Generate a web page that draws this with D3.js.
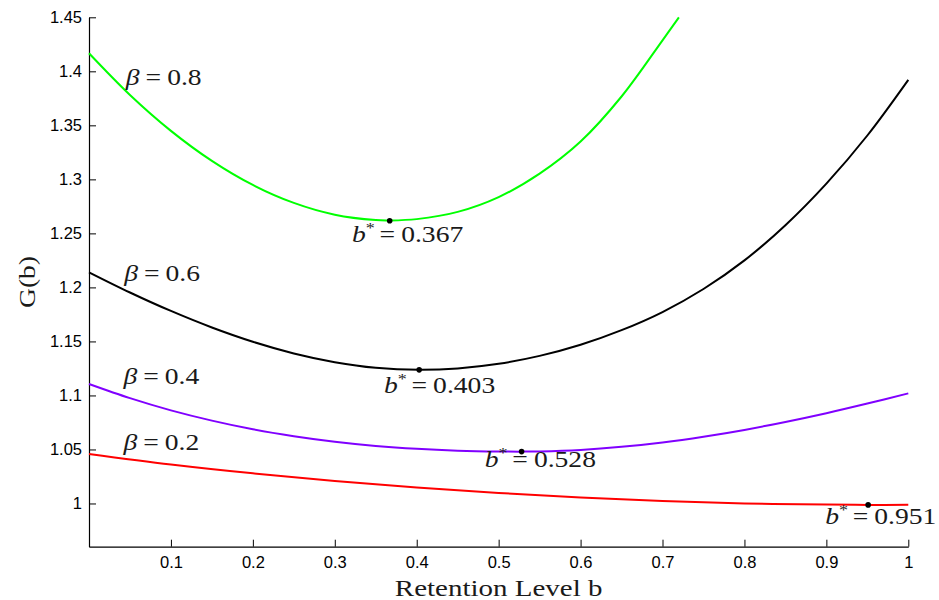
<!DOCTYPE html>
<html>
<head>
<meta charset="utf-8">
<script src="https://cdn.jsdelivr.net/npm/d3@7"></script>
<style>
  html, body { margin: 0; padding: 0; background: #fff; }
  svg { display: block; }
</style>
</head>
<body>
<svg id="chart" width="939" height="600"></svg>
<script>
// ---------------- data ----------------
const xTicks = [0.1, 0.2, 0.3, 0.4, 0.5, 0.6, 0.7, 0.8, 0.9, 1];
const yTicks = [1, 1.05, 1.1, 1.15, 1.2, 1.25, 1.3, 1.35, 1.4, 1.45];

const b08 = [0, 0.05, 0.1, 0.15, 0.2, 0.25, 0.3, 0.35, 0.367, 0.4, 0.45, 0.5, 0.55, 0.6, 0.65, 0.7, 0.72];
const g08 = [1.4167, 1.3781, 1.3449, 1.3171, 1.2948, 1.2782, 1.2673, 1.2623, 1.2620, 1.2632, 1.2699, 1.2836, 1.3053, 1.3350, 1.3767, 1.4287, 1.45];

const b06 = [0, 0.05, 0.1, 0.15, 0.2, 0.25, 0.3, 0.35, 0.403, 0.45, 0.5, 0.55, 0.6, 0.65, 0.7, 0.75, 0.8, 0.85, 0.9, 0.95, 1];
const g06 = [1.2140, 1.1953, 1.1782, 1.1629, 1.1497, 1.1389, 1.1308, 1.1256, 1.1237, 1.1250, 1.1293, 1.1366, 1.1469, 1.1604, 1.1772, 1.1985, 1.2250, 1.2576, 1.2961, 1.3406, 1.3921];

const b04 = [0, 0.05, 0.1, 0.15, 0.2, 0.25, 0.3, 0.35, 0.4, 0.45, 0.5, 0.528, 0.55, 0.6, 0.65, 0.7, 0.75, 0.8, 0.85, 0.9, 0.95, 1];
const g04 = [1.1106, 1.0975, 1.0862, 1.0767, 1.0687, 1.0623, 1.0572, 1.0533, 1.0506, 1.0489, 1.0481, 1.0480, 1.0482, 1.0496, 1.0524, 1.0565, 1.0618, 1.0681, 1.0755, 1.0836, 1.0925, 1.1019];

const b02 = [0, 0.1, 0.2, 0.3, 0.4, 0.5, 0.6, 0.7, 0.8, 0.9, 0.951, 1];
const g02 = [1.0459, 1.0361, 1.0279, 1.0209, 1.0149, 1.0098, 1.0056, 1.0023, 1.0000, 0.9990, 0.9987, 0.9988];

const seriesColors = ["#00ff00", "#000000", "#8000ff", "#ff0000"];

// optimum points
const optB = [0.367, 0.403, 0.528, 0.951];
const optG = [1.2617, 1.1237, 1.0480, 0.9987];

// text positions (data units, like text(x,y) in the source figure)
const betaLabelX = [0.045, 0.043, 0.042, 0.042];
const betaLabelY = [1.3873, 1.2056, 1.1108, 1.0491];
const betaValues = ["0.8", "0.6", "0.4", "0.2"];
const optLabelX = [0.321, 0.360, 0.483, 0.8985];
const optLabelY = [1.2417, 1.1019, 1.0339, 0.9809];
const optValues = ["0.367", "0.403", "0.528", "0.951"];

// ---------------- chart ----------------
const svg = d3.select("#chart");
const x = d3.scaleLinear().domain([0, 1]).range([89, 908.3]);
const y = d3.scaleLinear().domain([0.96, 1.45]).range([546.7, 17.3]);

const tickFont = "'Liberation Sans', Arial, sans-serif";
const mathFont = "'Liberation Serif', 'Times New Roman', serif";
const stretch = 1.2;

const xAxis = svg.append("g")
  .attr("transform", `translate(0,${y(0.96)})`)
  .call(d3.axisBottom(x).tickValues(xTicks).tickFormat(d3.format("~g"))
        .tickSizeInner(-7).tickSizeOuter(0).tickPadding(10));
const yAxis = svg.append("g")
  .attr("transform", `translate(${x(0)},0)`)
  .call(d3.axisLeft(y).tickValues(yTicks).tickFormat(d3.format("~g"))
        .tickSizeInner(-7).tickSizeOuter(0).tickPadding(7));
[xAxis, yAxis].forEach(g => {
  g.selectAll("text").attr("font-family", tickFont).attr("font-size", 16.5).attr("fill", "#000");
  g.selectAll("line").attr("stroke", "#000");
  g.select(".domain").attr("stroke", "#000").attr("stroke-width", 1.2);
});

const bs = [b08, b06, b04, b02];
const gs = [g08, g06, g04, g02];
const line = d3.line().x(d => x(d[0])).y(d => y(d[1])).curve(d3.curveCatmullRom.alpha(0.5));

bs.forEach((bArr, i) => {
  const pts = bArr.map((b, j) => [b, gs[i][j]]);
  svg.append("path")
    .datum(pts)
    .attr("d", line)
    .attr("fill", "none")
    .attr("stroke", seriesColors[i])
    .attr("stroke-width", 2);
});

// optimum dots
svg.selectAll("circle.opt")
  .data(optB.map((b, i) => [b, optG[i]]))
  .join("circle")
  .attr("class", "opt")
  .attr("cx", d => x(d[0]))
  .attr("cy", d => y(d[1]))
  .attr("r", 2.8)
  .attr("fill", "#000");

function mathText(px, py) {
  return svg.append("text")
    .attr("transform", `translate(${px},${py}) scale(${stretch},1)`)
    .attr("font-family", mathFont)
    .attr("font-size", 23)
    .attr("fill", "#1a1a1a");
}

// beta labels
betaValues.forEach((v, i) => {
  const t = mathText(x(betaLabelX[i]), y(betaLabelY[i]));
  t.append("tspan").attr("font-style", "italic").text("β");
  t.append("tspan").attr("dx", 5).text("=");
  t.append("tspan").attr("dx", 5).text(v);
});

// optimum labels
optValues.forEach((v, i) => {
  const t = mathText(x(optLabelX[i]), y(optLabelY[i]));
  t.append("tspan").attr("font-style", "italic").text("b");
  t.append("tspan").attr("font-size", 15).attr("dy", -9).text("*");
  t.append("tspan").attr("dy", 9).attr("dx", 4).text("=");
  t.append("tspan").attr("dx", 5).text(v);
});

// axis titles
svg.append("text")
  .attr("transform", `translate(35,${(y(0.96) + y(1.45)) / 2}) rotate(-90) scale(${stretch},1)`)
  .attr("text-anchor", "middle")
  .attr("font-family", mathFont)
  .attr("font-size", 23)
  .attr("fill", "#1a1a1a")
  .text("G(b)");

svg.append("text")
  .attr("transform", `translate(${(x(0) + x(1)) / 2},596) scale(${stretch * 1.05},1)`)
  .attr("text-anchor", "middle")
  .attr("font-family", mathFont)
  .attr("font-size", 23)
  .attr("fill", "#1a1a1a")
  .text("Retention Level b");
</script>
</body>
</html>
